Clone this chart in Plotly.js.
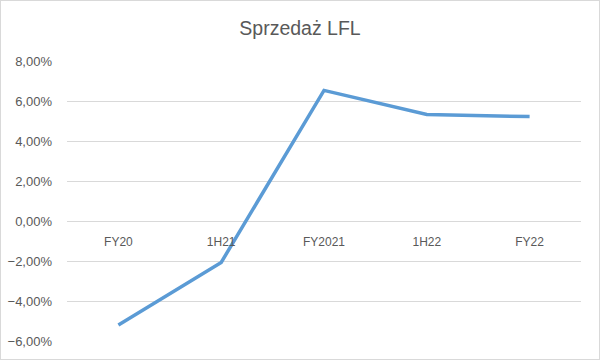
<!DOCTYPE html>
<html><head><meta charset="utf-8">
<script src="https://cdn.plot.ly/plotly-3.0.1.min.js"></script>
<style>body{margin:0;padding:0;}#wrap{position:relative;width:600px;height:360px;}#chart{width:600px;height:360px;}#frame{position:absolute;left:0;top:0;width:598px;height:358px;border:1px solid #d9d9d9;pointer-events:none;}</style>
</head><body>
<div id="wrap"><div id="chart"></div><div id="frame"></div></div>
<script>
const categories = ["FY20", "1H21", "FY2021", "1H22", "FY22"];
const lflValues = [-0.052, -0.0207, 0.0653, 0.0533, 0.0522];
const yTickValues = [-0.06, -0.04, -0.02, 0, 0.02, 0.04, 0.06, 0.08];

const yMin = -0.06, yMax = 0.08;
const trace = {
  x: categories,
  y: lflValues,
  type: "scatter",
  mode: "lines",
  line: {color: "#5b9bd5", width: 3.5},
  hoverinfo: "skip"
};
const layout = {
  width: 600, height: 360,
  margin: {l: 67, r: 19, t: 61, b: 19},
  paper_bgcolor: "#ffffff", plot_bgcolor: "#ffffff",
  separators: ", ",
  showlegend: false,
  title: {text: "Sprzedaż LFL", x: 0.5, xanchor: "center", y: 1 - 28/360, yanchor: "middle",
          font: {family: "Liberation Sans, Arial, sans-serif", size: 19.5, color: "#595959"}},
  font: {family: "Liberation Sans, Arial, sans-serif", size: 12, color: "#595959"},
  xaxis: {
    type: "category", range: [-0.5, 4.5], anchor: "free",
    position: (0 - yMin) / (yMax - yMin),
    showgrid: false, showline: false, zeroline: false, ticks: "",
    ticklabelstandoff: 12,
    tickfont: {size: 12, color: "#595959"}
  },
  yaxis: {
    range: [yMin, yMax], tickvals: yTickValues, tickformat: ".2%",
    showgrid: true, gridcolor: "#d9d9d9", gridwidth: 1,
    zeroline: false, showline: false, ticks: "",
    ticklabelstandoff: 14,
    tickfont: {size: 13, color: "#595959"}
  }
};
Plotly.newPlot("chart", [trace], layout, {staticPlot: true});
</script>
</body></html>
